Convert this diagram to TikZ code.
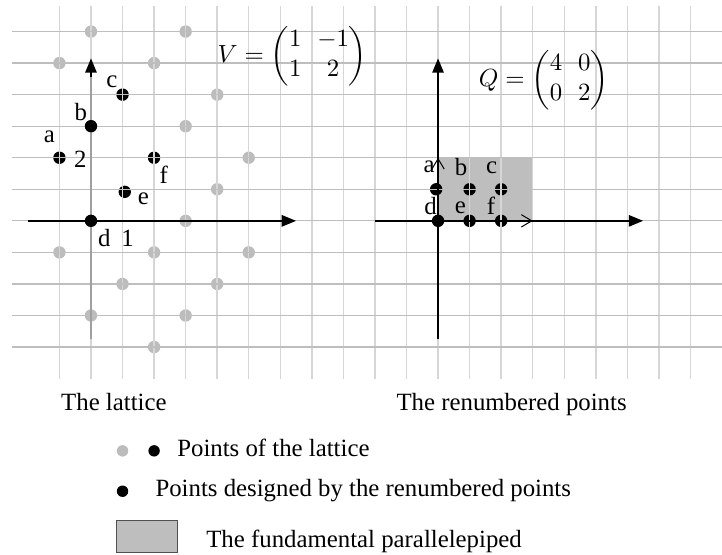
\documentclass[tikz,border=0pt]{standalone}
\usepackage{fontspec}
\setmainfont{Liberation Serif}
\usepackage{amsmath}
\usetikzlibrary{arrows.meta}
\definecolor{gridv}{RGB}{214,214,214}
\definecolor{gridh}{RGB}{190,190,190}
\definecolor{latgray}{RGB}{188,188,188}
\definecolor{axgray}{RGB}{160,160,160}
\definecolor{boxfill}{RGB}{190,190,190}
\definecolor{boxline}{RGB}{140,140,140}
\definecolor{keyline}{RGB}{80,80,80}
\tikzset{
  vline/.style={gridv, line width=0.6pt},
  hline/.style={gridh, line width=0.5pt},
  latdot/.style={circle, fill=latgray, inner sep=0pt, minimum size=5pt},
  ptdot/.style={circle, fill=black, inner sep=0pt, minimum size=5pt},
  keydot/.style={circle, inner sep=0pt, minimum size=4.6pt},
  lbl/.style={inner sep=0pt},
  txt/.style={inner sep=0pt, anchor=base west},
  axis/.style={-{Triangle[length=5.8pt, width=4.6pt]}, line width=0.7pt},
  basis/.style={-{Straight Barb[length=4.2pt, width=5pt]}, line width=0.4pt}
}

\begin{document}
\begin{tikzpicture}[x=0.447cm, y=0.447cm]
  \useasboundingbox (-2.884,-10.56) rectangle (20,7);

  % Fundamental parallelepiped
  \fill[boxfill] (11,0) rectangle (14,2);
  \draw[boxline, line width=0.5pt] (11,2) -- (14,2) -- (14,0);

  % Lattice points
  \foreach \p [count=\i] in {(0,6),(3,6),(-1,5),(2,5),(4,4),(3,3),(5,2),(4,1),(3,0),
      (-1,-1),(2,-1),(5,-1),(1,-2),(4,-2),(0,-3),(3,-3),(2,-4)}
    \node[latdot] (lat\i) at \p {};

  % Points of the lattice
  \node[ptdot] (la) at (-1,2) {};
  \node[ptdot] (lc) at (1,4) {};
  \node[ptdot] (le) at (1.07,0.92) {};
  \node[ptdot] (lf) at (2,2) {};

  % Renumbered points
  \node[ptdot] (ra) at (10.94,1) {};
  \node[ptdot] (rb) at (12,1) {};
  \node[ptdot] (rc) at (13,1) {};
  \node[ptdot] (re) at (12,0) {};
  \node[ptdot] (rf) at (13,0) {};

  % Grid
  \foreach \x in {-1,...,19}
    \draw[vline] (\x,-5) -- (\x,6.8);
  \foreach \y in {-4,...,6}
    \draw[hline] (-2.5,\y) -- (20,\y);

  % Axes
  \draw[axgray, line width=1.2pt] (0,-3.75) -- (0,4.8);
  \draw[axis] (-2,0) -- (6.5,0);
  \draw[axis] (0,4.55) -- (0,5.15);
  \draw[axis] (9,0) -- (17.5,0);
  \draw[axis] (11,-3.75) -- (11,5.15);
  \draw[basis] (11,0) -- (11,2);
  \draw[basis] (11,0) -- (14,0);

  \node[ptdot] (lb) at (0,3) {};
  \node[ptdot] (ld) at (0,0) {};
  \node[ptdot] (rd) at (11,0) {};

  % Labels
  \node[lbl] (tla) at (-1.32,2.67) {a};
  \node[lbl] (tlb) at (-0.32,3.46) {b};
  \node[lbl] (tlc) at (0.66,4.42) {c};
  \node[lbl] (tld) at (0.42,-0.55) {d};
  \node[lbl] (tle) at (1.66,0.69) {e};
  \node[lbl] (tlf) at (2.31,1.46) {f};
  \node[lbl] (one) at (1.16,-0.55) {1};
  \node[lbl] (two) at (-0.34,1.96) {2};

  \node[lbl] (tra) at (10.72,1.72) {a};
  \node[lbl] (trb) at (11.73,1.72) {b};
  \node[lbl] (trc) at (12.70,1.67) {c};
  \node[lbl] (trd) at (10.76,0.48) {d};
  \node[lbl] (tre) at (11.71,0.43) {e};
  \node[lbl] (trf) at (12.68,0.48) {f};

  \node[lbl, anchor=west] (matV) at (4.0,5.23)
    {\setlength{\arraycolsep}{3.2pt}$V=\begin{pmatrix}1&-1\\1&2\end{pmatrix}$};
  \node[lbl, anchor=west] (matQ) at (12.28,4.47)
    {\setlength{\arraycolsep}{3.2pt}$Q=\begin{pmatrix}4&0\\0&2\end{pmatrix}$};

  \node[txt] (capL) at (-0.96,-6.0) {The lattice};
  \node[txt] (capR) at (9.67,-6.0) {The renumbered points};

  % Key
  \node[keydot, fill=latgray] (kg) at (1,-7.29) {};
  \node[keydot, fill=black] (kb) at (2,-7.29) {};
  \node[txt] (key1) at (2.72,-7.47) {Points of the lattice};
  \node[keydot, fill=black] (kr) at (1,-8.57) {};
  \node[txt] (key2) at (2.03,-8.74) {Points designed by the renumbered points};
  \draw[keyline, fill=boxfill, line width=0.5pt] (0.8,-10.5) rectangle (2.73,-9.5);
  \node[txt] (key3) at (3.64,-10.34) {The fundamental parallelepiped};
\end{tikzpicture}
\end{document}
